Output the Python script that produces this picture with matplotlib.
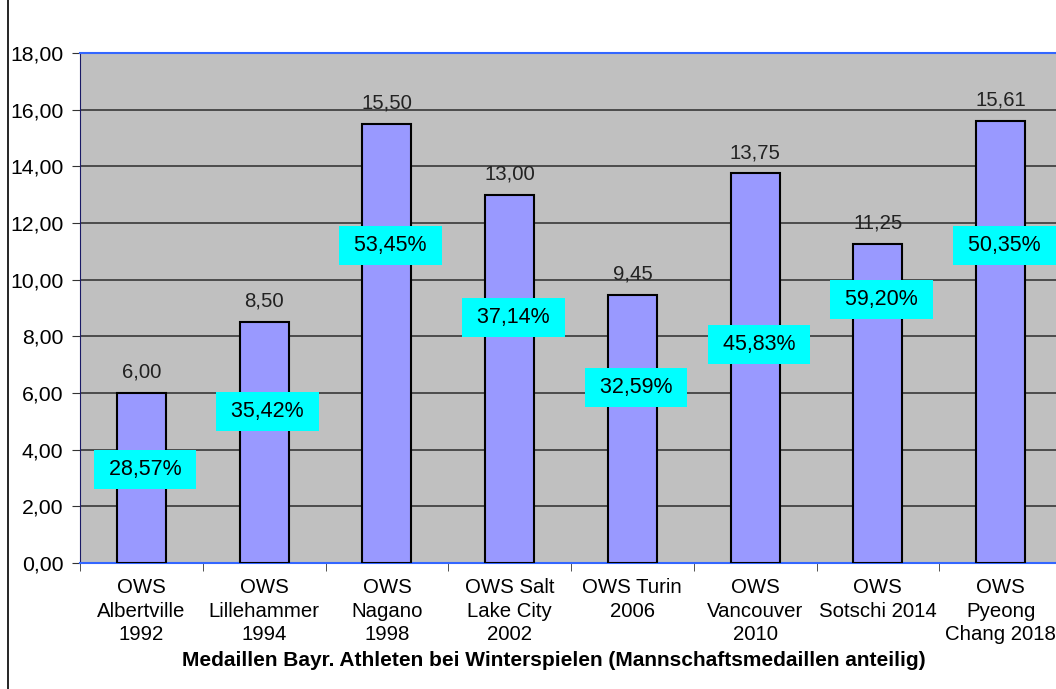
import matplotlib.pyplot as plt
import matplotlib.lines as mlines
import numpy as np

plt.rcParams['font.family'] = ['Liberation Sans', 'DejaVu Sans']

# data
games = ["OWS\nAlbertville\n1992", "OWS\nLillehammer\n1994", "OWS\nNagano\n1998",
         "OWS Salt\nLake City\n2002", "OWS Turin\n2006", "OWS\nVancouver\n2010",
         "OWS\nSotschi 2014", "OWS\nPyeong\nChang 2018"]
medals = [6.00, 8.50, 15.50, 13.00, 9.45, 13.75, 11.25, 15.61]
team_share = ["28,57%", "35,42%", "53,45%", "37,14%", "32,59%", "45,83%", "59,20%", "50,35%"]
share_label_y = [3.3, 5.35, 11.2, 8.65, 6.2, 7.7, 9.3, 11.2]

fig = plt.figure(figsize=(10.56, 6.89), dpi=100)
ax = fig.add_axes([80 / 1056, 126 / 689, 982 / 1056, 510 / 689])
ax.set_facecolor('#C0C0C0')

x = np.arange(len(games))
ax.bar(x, medals, width=0.4, color='#9999FF', edgecolor='black', linewidth=1.5, zorder=3)

for xi, v in zip(x, medals):
    ax.text(xi, v + 0.4, f"{v:.2f}".replace('.', ','), ha='center', va='bottom',
            fontsize=14.7, color='#222222', zorder=4)

for xi, s, yy in zip(x, team_share, share_label_y):
    ax.text(xi + 0.03, yy, f" {s} ", ha='center', va='center', fontsize=15.5, zorder=5,
            bbox=dict(boxstyle='square,pad=0.42', facecolor='#00FFFF', edgecolor='none'))

ax.set_xlim(-0.5, len(games) - 0.5)
ax.set_ylim(0, 18)
ax.set_yticks(np.arange(0, 19, 2))
ax.set_yticklabels([f"{t:.2f}".replace('.', ',') for t in np.arange(0, 19, 2)], fontsize=15.3)
ax.yaxis.grid(True, color='#383838', linewidth=1.2, zorder=1)

ax.set_xticks(x)
ax.set_xticklabels(games, fontsize=14.7, linespacing=1.3)
ax.set_xticks(np.arange(-0.5, len(games), 1), minor=True)
ax.tick_params(axis='x', which='major', length=0, pad=11)
ax.tick_params(axis='x', which='minor', length=6, color='#333333')
ax.tick_params(axis='y', length=6, color='#333333', pad=6)

for side in ['top', 'bottom']:
    ax.spines[side].set_color('#3366FF')
    ax.spines[side].set_linewidth(1.5)
ax.spines['left'].set_color('#1A1A66')
ax.spines['right'].set_visible(False)

fig.text(554 / 1056, 1 - 661 / 689,
         "Medaillen Bayr. Athleten bei Winterspielen (Mannschaftsmedaillen anteilig)",
         ha='center', va='center', fontsize=15, fontweight='bold')

fig.add_artist(mlines.Line2D([8 / 1056, 8 / 1056], [0, 1], color='black', linewidth=1.2,
                             transform=fig.transFigure))

fig.savefig("out.png", dpi=100)
